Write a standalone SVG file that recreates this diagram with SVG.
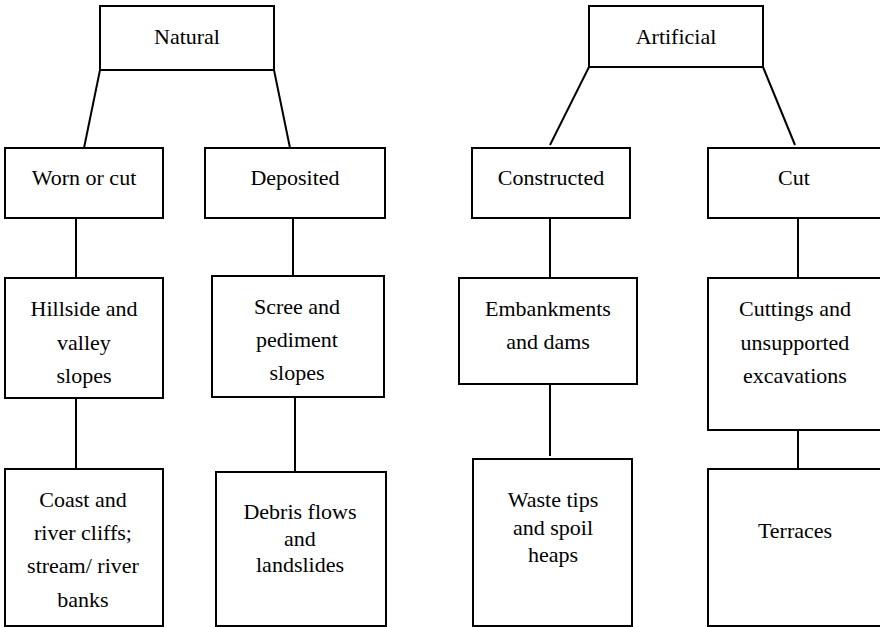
<svg xmlns="http://www.w3.org/2000/svg" width="880" height="627" viewBox="0 0 880 627">
<style>
rect{fill:#fff;stroke:#000;stroke-width:2}
line{stroke:#000;stroke-width:2}
text{font-family:'Liberation Serif','Times New Roman',Tinos,'DejaVu Serif',serif;font-size:22px;fill:#000;text-anchor:middle}
</style>
<rect x="0" y="0" width="880" height="627" style="stroke:none"/>
<g id="connectors">
<line x1="100" y1="70" x2="84" y2="148"/>
<line x1="274" y1="70" x2="290" y2="148"/>
<line x1="589" y1="67" x2="550" y2="145"/>
<line x1="763" y1="67" x2="795" y2="145"/>
<line x1="76" y1="218" x2="76" y2="278"/>
<line x1="76" y1="398" x2="76" y2="469"/>
<line x1="293" y1="218" x2="293" y2="276"/>
<line x1="295" y1="397" x2="295" y2="472"/>
<line x1="550" y1="218" x2="550" y2="278"/>
<line x1="550" y1="384" x2="550" y2="456"/>
<line x1="798" y1="218" x2="798" y2="278"/>
<line x1="798" y1="430" x2="798" y2="469"/>
</g>
<g id="natural"><rect x="100" y="6" width="174" height="64"/><text x="187" y="44" font-family="Liberation Serif, DejaVu Serif, serif">Natural</text></g>
<g id="artificial"><rect x="589" y="6" width="174" height="61"/><text x="676" y="44">Artificial</text></g>
<g id="worn"><rect x="5" y="148" width="158" height="70"/><text x="84" y="185">Worn or cut</text></g>
<g id="deposited"><rect x="205" y="148" width="180" height="70"/><text x="295" y="185">Deposited</text></g>
<g id="constructed"><rect x="472" y="148" width="158" height="70"/><text x="551" y="185">Constructed</text></g>
<g id="cut"><rect x="708" y="148" width="174" height="70"/><text x="794" y="185">Cut</text></g>
<g id="hillside"><rect x="5" y="278" width="158" height="120"/><text x="84" y="316">Hillside and</text><text x="84" y="350">valley</text><text x="84" y="383">slopes</text></g>
<g id="scree"><rect x="212" y="276" width="172" height="121"/><text x="297" y="314">Scree and</text><text x="297" y="347">pediment</text><text x="297" y="380">slopes</text></g>
<g id="embankments"><rect x="459" y="278" width="178" height="106"/><text x="548" y="316">Embankments</text><text x="548" y="349">and dams</text></g>
<g id="cuttings"><rect x="708" y="278" width="174" height="152"/><text x="795" y="316">Cuttings and</text><text x="795" y="350">unsupported</text><text x="795" y="383">excavations</text></g>
<g id="coast"><rect x="5" y="469" width="158" height="157"/><text x="83" y="507">Coast and</text><text x="83" y="540">river cliffs;</text><text x="83" y="573">stream/ river</text><text x="83" y="607">banks</text></g>
<g id="debris"><rect x="216" y="472" width="170" height="154"/><text x="300" y="519">Debris flows</text><text x="300" y="546">and</text><text x="300" y="572">landslides</text></g>
<g id="waste"><rect x="473" y="459" width="159" height="167"/><text x="553" y="507">Waste tips</text><text x="553" y="535">and spoil</text><text x="553" y="562">heaps</text></g>
<g id="terraces"><rect x="708" y="469" width="174" height="157"/><text x="795" y="538">Terraces</text></g>
</svg>
